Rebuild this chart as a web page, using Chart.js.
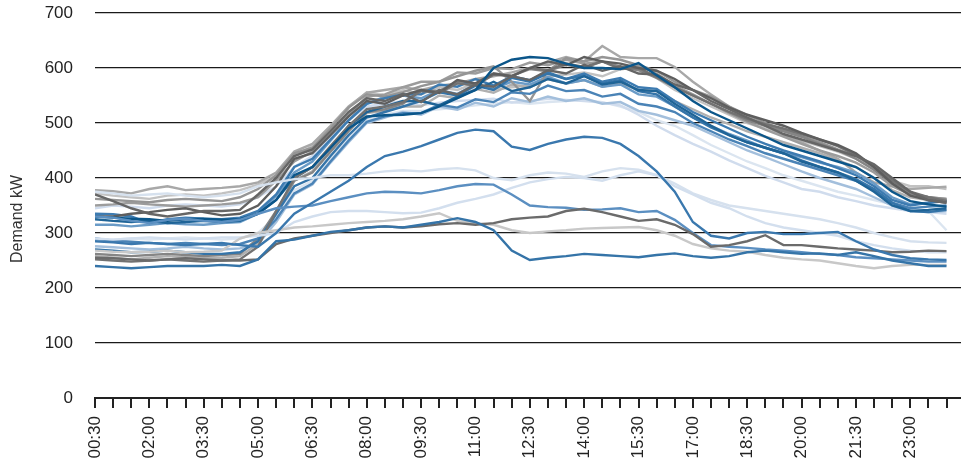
<!DOCTYPE html>
<html>
<head>
<meta charset="utf-8">
<script src="https://cdn.jsdelivr.net/npm/chart.js@4.4.1/dist/chart.umd.min.js"></script>
<style>
  html, body { margin: 0; padding: 0; background: #fff; }
  #wrap { width: 961px; height: 469px; position: relative; }
</style>
</head>
<body>
<div id="wrap"><canvas id="demandChart"></canvas></div>
<script>
// half-hourly time slots (end of each 30 min interval)
const timeLabels = ['00:30','01:00','01:30','02:00','02:30','03:00','03:30','04:00','04:30','05:00',
  '05:30','06:00','06:30','07:00','07:30','08:00','08:30','09:00','09:30','10:00','10:30','11:00',
  '11:30','12:00','12:30','13:00','13:30','14:00','14:30','15:00','15:30','16:00','16:30','17:00',
  '17:30','18:00','18:30','19:00','19:30','20:00','20:30','21:00','21:30','22:00','22:30','23:00',
  '23:30','24:00'];
const yTicks = [0, 100, 200, 300, 400, 500, 600, 700];

// low days
const blueHump = [285,283,280,282,280,278,280,282, 278,275,300,335,355,375,395,420,
  440,448,458,470,482,488,485,457, 451,462,470,475,473,462,440,412,
  375,320,295,290,300,302,298,298, 300,302,285,270,260,254,252,251];
const lightFlat = [375,372,368,370,372,368,365,368, 372,385,392,398,400,405,405,408,
  412,414,412,416,418,414,400,396, 405,410,408,402,412,418,415,405,
  390,372,360,350,345,340,335,330, 325,318,310,300,292,285,283,282];
const lightRise = [290,288,290,292,290,288,290,292, 292,295,300,320,330,338,340,340,
  338,336,337,345,355,362,370,382, 392,398,402,400,395,405,412,405,
  385,370,355,345,330,318,310,305, 300,295,285,278,272,268,265,265];
const bluePlateau = [330,328,322,318,324,326,322,320, 324,335,345,348,350,358,365,372,
  375,374,372,378,385,389,388,370, 350,347,346,342,343,345,338,340,
  324,300,278,275,273,270,268,265, 262,260,256,254,252,250,248,248];
const grayLow = [255,254,252,250,252,254,252,250, 250,252,280,290,295,300,305,310,
  312,310,312,316,318,315,318,325, 328,330,340,344,338,330,322,325,
  315,298,275,278,285,296,278,278, 275,272,270,268,265,266,268,267];
const paleGrayLow = [268,266,265,266,268,265,266,268, 290,300,305,310,312,315,318,320,
  322,325,330,336,322,318,315,305, 300,303,305,308,309,310,311,305,
  295,280,272,268,266,260,255,252, 250,245,240,236,240,242,242,242];
const blueLow = [240,238,236,238,240,240,240,242, 240,252,285,288,295,302,305,310,
  312,310,315,320,327,320,305,268, 251,255,258,262,260,258,256,260,
  263,258,255,258,265,268,265,262, 263,260,265,258,250,245,240,240];

// working days
const day01 = [370,358,345,335,330,335,340,340, 342,370,400,440,452,485,520,545,
  540,553,538,560,552,570,566,585, 578,596,590,606,595,603,590,588,
  570,560,540,525,510,495,480,470, 460,450,440,425,400,375,360,355];
const day02 = [378,376,372,380,385,378,380,382, 385,392,410,448,462,495,530,555,
  560,565,560,568,572,580,585,592, 600,610,620,612,640,620,618,618,
  602,575,552,530,512,495,478,465, 450,435,410,392,385,380,382,384];
const day03 = [330,328,326,325,322,325,326,324, 325,335,360,405,420,455,490,512,
  514,515,518,530,545,560,600,615, 620,618,608,600,600,598,609,587,
  565,540,520,505,490,475,460,450, 440,430,420,400,375,358,352,348];
const day04 = [362,360,358,356,360,362,360,358, 365,380,405,445,455,490,528,552,
  548,556,567,575,585,595,603,575, 540,595,618,612,620,615,605,595,
  575,560,548,530,515,500,488,476, 465,452,440,420,395,372,365,362];
const day05 = [335,334,330,318,325,328,326,325, 328,340,370,420,435,470,505,535,
  545,552,552,570,566,580,568,585, 578,592,580,590,575,582,565,562,
  540,520,505,490,475,462,450,440, 430,418,405,385,360,350,355,358];
const day06 = [330,330,335,338,342,345,338,332, 335,350,385,435,445,478,512,540,
  535,550,560,555,578,572,590,585, 600,612,605,620,612,608,600,595,
  580,560,545,528,515,505,495,482, 470,460,445,420,390,368,360,355];
const day07 = [325,322,320,322,318,320,322,320, 322,335,360,400,420,455,495,520,
  530,540,540,532,548,560,575,558, 565,580,572,585,570,575,560,558,
  535,515,495,478,465,455,445,430, 420,410,395,375,350,340,342,345];
const day08 = [315,315,312,315,318,316,315,318, 320,335,368,410,430,468,505,535,
  548,550,545,560,553,570,562,575, 570,584,572,578,566,570,552,548,
  530,510,495,480,468,455,445,438, 428,420,410,390,365,352,355,360];
const day09 = [372,368,365,362,368,370,368,372, 378,388,405,440,458,492,528,556,
  550,560,552,565,560,572,560,565, 568,585,588,592,585,598,600,582,
  560,545,530,515,500,490,478,468, 458,448,435,415,395,385,385,380];
const day10 = [345,350,348,345,350,352,350,348, 352,365,385,420,440,475,505,530,
  535,540,532,537,540,542,544,537, 540,544,542,540,537,532,515,495,
  478,462,448,432,418,404,392,380, 375,365,358,350,345,340,338,335];
const day11 = [262,260,258,260,262,260,258,260, 262,290,340,395,410,448,485,520,
  525,535,560,558,575,570,590,586, 598,594,606,600,612,602,596,582,
  565,550,535,520,505,495,485,475, 462,450,435,415,390,372,365,360];
const day12 = [270,268,265,266,268,265,262,262, 265,285,335,385,400,440,478,510,
  520,530,540,556,550,568,560,582, 575,590,580,586,572,578,558,552,
  530,510,492,478,465,455,445,432, 420,410,398,380,355,340,338,342];
const day13 = [276,274,272,270,272,275,272,270, 272,280,320,370,388,428,465,500,
  510,520,515,530,524,537,530,545, 538,548,540,545,535,538,522,515,
  505,495,480,465,450,438,425,412, 400,390,380,365,350,340,338,340];
const day14 = [258,255,252,255,258,256,254,255, 258,280,335,395,412,450,488,518,
  522,530,530,550,545,562,555,570, 565,580,572,578,566,572,560,558,
  540,525,510,498,485,475,465,455, 445,432,420,400,378,365,360,358];
const day15 = [290,286,284,282,280,282,280,278, 280,290,325,372,390,430,468,502,
  512,518,518,533,528,543,538,556, 553,568,558,560,548,553,535,530,
  520,500,485,470,458,445,435,425, 415,405,395,378,355,345,348,350];
const day16 = [286,288,290,288,290,292,290,288, 290,300,330,378,395,435,472,505,
  515,522,522,525,528,532,535,538, 535,538,540,542,538,530,520,505,
  495,478,460,445,430,418,405,395, 385,375,368,360,352,345,340,305];
const day17 = [252,250,248,250,252,250,248,250, 252,275,340,400,420,458,495,525,
  530,538,558,555,572,568,588,585, 600,596,608,602,612,598,600,584,
  565,550,535,520,508,498,490,480, 470,458,442,420,395,375,365,358];
const day18 = [350,352,355,352,350,348,350,352, 355,365,395,430,448,480,515,548,
  552,565,575,575,592,590,600,598, 610,605,615,608,612,602,605,590,
  568,552,535,518,502,488,475,462, 450,440,428,410,385,370,365,362];

const seriesList = [blueHump, blueLow, grayLow, bluePlateau, paleGrayLow, lightRise, lightFlat,
  day03, day01, day06, day17, day07, day12, day05, day15, day11, day04, day18, day08,
  day02, day14, day09, day13, day10, day16];
const lineColours = ['#3a78ae', '#3574a8', '#6b6b6b', '#5b8fc1', '#c8c8c8', '#d3dfee', '#d6e1ee',
  '#0b568a', '#666666', '#5e5e5e', '#727272', '#1f6497', '#3574a8', '#3d7bb1', '#4a83b6', '#858585',
  '#959595', '#9c9c9c', '#6a9bc7', '#a8a8a8', '#b0b0b0', '#c2c2c2', '#a3bfdc', '#d0dced', '#dbe5f0'];

const axisFont = { family: "'Liberation Sans', Arial, Helvetica, sans-serif", size: 17 };

// rotated y axis caption, placed where the original has it
const yCaption = {
    id: 'yCaption',
    afterDraw(chart) {
        const ctx = chart.ctx;
        ctx.save();
        ctx.translate(18, 219);
        ctx.rotate(-Math.PI / 2);
        ctx.font = "16px 'Liberation Sans', Arial, sans-serif";
        ctx.fillStyle = '#333';
        ctx.textAlign = 'center';
        ctx.textBaseline = 'middle';
        ctx.fillText('Demand kW', 0, 0);
        ctx.restore();
    }
};

new Chart(document.getElementById('demandChart'), {
    type: 'line',
    data: {
        datasets: seriesList.map((vals, k) => ({
            data: vals.map((v, i) => ({ x: i, y: v })),
            borderColor: lineColours[k],
            borderWidth: 2.4,
            pointRadius: 0,
            tension: 0,
            fill: false
        }))
    },
    options: {
        responsive: true,
        maintainAspectRatio: false,
        animation: false,
        layout: { padding: { top: 13, right: 0, bottom: 0, left: 0 } },
        plugins: { legend: { display: false }, tooltip: { enabled: false } },
        scales: {
            x: {
                type: 'linear',
                min: 0,
                max: 47.8,
                ticks: {
                    stepSize: 1,
                    autoSkip: false,
                    includeBounds: false,
                    maxRotation: 90,
                    minRotation: 90,
                    padding: 8,
                    color: '#222',
                    font: axisFont,
                    callback: v => (Number.isInteger(v) && v % 3 === 0) ? timeLabels[v] : ''
                },
                grid: { drawOnChartArea: false, drawTicks: true, tickLength: 10, color: '#222', lineWidth: 2 },
                border: { display: true, color: '#222', width: 2 },
                afterFit: s => { s.height = 71; s.paddingLeft = 0; s.paddingRight = 0; s.paddingTop = 0; s.paddingBottom = 0; }
            },
            y: {
                min: 0,
                max: 700,
                afterBuildTicks: s => { s.ticks = yTicks.map(v => ({ value: v })); },
                ticks: { padding: 22, color: '#222', font: axisFont },
                grid: { color: '#1a1a1a', lineWidth: 1.2, drawTicks: false },
                border: { display: false },
                afterFit: s => { s.width = 95; s.paddingTop = 0; s.paddingBottom = 0; }
            }
        }
    },
    plugins: [yCaption]
});
</script>
</body>
</html>
